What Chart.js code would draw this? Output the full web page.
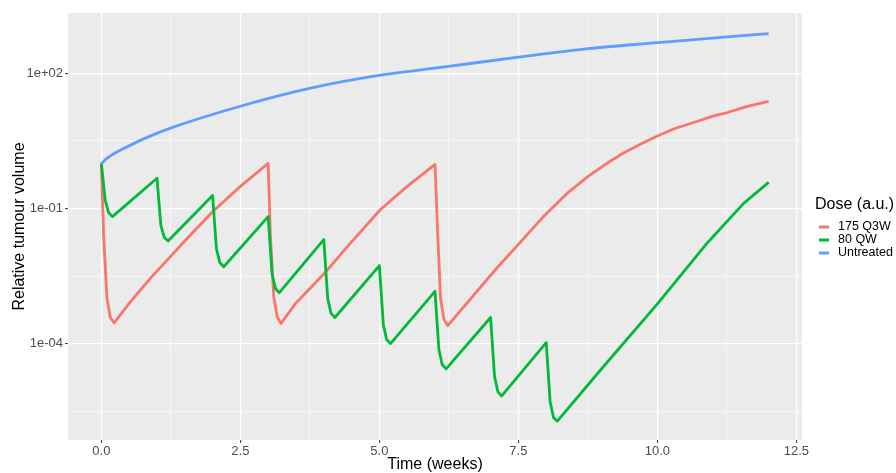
<!DOCTYPE html>
<html>
<head>
<meta charset="utf-8">
<script src="https://cdn.jsdelivr.net/npm/chart.js@4"></script>
<style>
  html, body { margin: 0; padding: 0; background: #fff; }
  #wrap { width: 896px; height: 473px; }
</style>
</head>
<body>
<div id="wrap"><canvas id="chart" width="896" height="473"></canvas></div>
<script>
// values (time in weeks, relative tumour volume)
const redTime = [0, 0.04, 0.1, 0.16, 0.23, 0.5, 0.88, 1.5, 2, 2.5, 3,
    3.04, 3.1, 3.16, 3.23, 3.5, 4, 4.42, 5.02, 5.5, 6,
    6.05, 6.1, 6.16, 6.23, 7.12, 7.5, 7.95, 8.38, 8.76, 9.1, 9.39, 9.7, 10, 10.3, 10.65, 11, 11.26, 11.6, 12];
const redValue = [1, 0.026, 0.00105, 0.00038, 0.00029, 0.00078, 0.0028, 0.019, 0.085, 0.31, 1.0,
    0.026, 0.0011, 0.0004, 0.00028, 0.0008, 0.0035, 0.014, 0.095, 0.31, 0.95,
    0.025, 0.001, 0.00035, 0.00025, 0.0049, 0.016, 0.066, 0.219, 0.525, 1.02, 1.7, 2.69, 4.07, 5.9, 8.1, 11.2, 13.5, 18.2, 24];

const greenTime = [0, 0.07, 0.13, 0.2, 1, 1.07, 1.13, 1.2, 2, 2.07, 2.13, 2.2,
    3, 3.07, 3.13, 3.2, 4, 4.07, 4.13, 4.2, 5, 5.07, 5.13, 5.2,
    6, 6.07, 6.13, 6.2, 7, 7.07, 7.13, 7.2, 8, 8.07, 8.13, 8.2,
    9, 10, 10.9, 11.55, 12];
const greenValue = [1, 0.15, 0.081, 0.066, 0.47, 0.042, 0.023, 0.019, 0.195, 0.0126, 0.0063, 0.0051,
    0.066, 0.0035, 0.00166, 0.00135, 0.0204, 0.00102, 0.00047, 0.00038, 0.0054, 0.00027, 0.000123, 0.0001,
    0.00145, 0.000074, 0.000034, 0.0000275, 0.00038, 0.000019, 0.0000085, 0.0000069, 0.000105, 0.0000052, 0.0000023, 0.0000019,
    0.000028, 0.00076, 0.0174, 0.13, 0.38];

const blueTime = [0, 0.1, 0.2, 0.4, 0.75, 1.28, 2.5, 3.76, 5.02, 6.1, 7.5, 8.76, 10, 11.26, 12];
const blueValue = [1, 1.29, 1.58, 2.14, 3.47, 6.3, 18.6, 46.8, 91, 135, 229, 355, 479, 646, 760];

const seriesNames = ['175 Q3W', '80 QW', 'Untreated'];
const seriesColors = ['#F8766D', '#00BA38', '#619CFF'];

const xMajor = [0, 2.5, 5, 7.5, 10, 12.5];
const xLabels = ['0.0', '2.5', '5.0', '7.5', '10.0', '12.5'];
const xMinor = [1.25, 3.75, 6.25, 8.75, 11.25];

const yMajor = [1e-4, 1e-1, 1e2];
const yLabels = ['1e-04', '1e-01', '1e+02'];
const yMinor = [Math.pow(10, -5.5), Math.pow(10, -2.5), Math.pow(10, 0.5)];

const FONT = "'Liberation Sans', Arial, sans-serif";

function pairs(t, v) {
    return t.map((x, i) => ({x: x, y: v[i]}));
}

function tickList(major, minor) {
    const all = major.map(v => ({value: v, major: true}))
        .concat(minor.map(v => ({value: v, major: false})));
    return all.sort((a, b) => a.value - b.value);
}

function labelFor(major, labels, value) {
    for (let i = 0; i < major.length; i++) {
        if (Math.abs(value - major[i]) <= Math.abs(major[i]) * 1e-6 + 1e-12) return labels[i];
    }
    return '';
}

const gridWidth = ctx => (ctx.tick && ctx.tick.major) ? 1.2 : 0.6;
const tickColor = ctx => (ctx.tick && ctx.tick.major) ? '#333333' : 'rgba(0,0,0,0)';

const panelBg = {
    id: 'panelBg',
    beforeDraw(chart) {
        const c = chart.ctx, a = chart.chartArea;
        c.save();
        c.fillStyle = '#ffffff';
        c.fillRect(0, 0, chart.width, chart.height);
        c.fillStyle = '#EBEBEB';
        c.fillRect(a.left, a.top, a.right - a.left, a.bottom - a.top);
        c.restore();
    }
};

const sideLegend = {
    id: 'sideLegend',
    afterDraw(chart) {
        const c = chart.ctx;
        c.save();
        c.textBaseline = 'middle';
        c.textAlign = 'left';
        c.fillStyle = '#000000';
        c.font = '16px ' + FONT;
        c.fillText('Dose (a.u.)', 815, 205);
        c.font = '12.5px ' + FONT;
        chart.data.datasets.forEach((ds, i) => {
            const y = 227 + i * 13;
            c.strokeStyle = ds.borderColor;
            c.lineWidth = 3;
            c.beginPath();
            c.moveTo(819, y);
            c.lineTo(829, y);
            c.stroke();
            c.fillStyle = '#000000';
            c.fillText(ds.label, 838, y);
        });
        c.restore();
    }
};

const chartArea = document.getElementById('chart');
const chart = new Chart(chartArea, {
    type: 'line',
    data: {
        datasets: [{
            label: seriesNames[0],
            data: pairs(redTime, redValue),
            borderColor: seriesColors[0],
            order: 3
        }, {
            label: seriesNames[1],
            data: pairs(greenTime, greenValue),
            borderColor: seriesColors[1],
            order: 2
        }, {
            label: seriesNames[2],
            data: pairs(blueTime, blueValue),
            borderColor: seriesColors[2],
            cubicInterpolationMode: 'monotone',
            order: 1
        }]
    },
    options: {
        responsive: false,
        animation: false,
        layout: {
            padding: {left: 0, top: 13, right: 94, bottom: 0}
        },
        elements: {
            line: {borderWidth: 2.8, tension: 0, fill: false, borderJoinStyle: 'round'},
            point: {radius: 0}
        },
        plugins: {
            legend: {display: false},
            tooltip: {enabled: false}
        },
        scales: {
            x: {
                type: 'linear',
                min: -0.6,
                max: 12.6,
                afterBuildTicks: s => { s.ticks = tickList(xMajor, xMinor); },
                afterFit: s => { s.height = 33; },
                border: {display: false},
                grid: {color: '#ffffff', lineWidth: gridWidth, tickLength: 3, tickColor: tickColor, tickWidth: 1},
                ticks: {
                    autoSkip: false,
                    maxRotation: 0,
                    padding: 1,
                    color: '#4D4D4D',
                    font: {family: FONT, size: 13},
                    callback: v => labelFor(xMajor, xLabels, v)
                },
                title: {
                    display: true,
                    text: 'Time (weeks)',
                    color: '#000000',
                    font: {family: FONT, size: 16, lineHeight: 1.0},
                    padding: {top: 0, bottom: 0}
                }
            },
            y: {
                type: 'logarithmic',
                min: Math.pow(10, -6.14),
                max: Math.pow(10, 3.34),
                afterBuildTicks: s => { s.ticks = tickList(yMajor, yMinor); },
                afterFit: s => { s.width = 68; },
                border: {display: false},
                grid: {color: '#ffffff', lineWidth: gridWidth, tickLength: 3, tickColor: tickColor, tickWidth: 1},
                ticks: {
                    autoSkip: false,
                    padding: 2,
                    color: '#4D4D4D',
                    font: {family: FONT, size: 13},
                    callback: v => labelFor(yMajor, yLabels, v)
                },
                title: {
                    display: true,
                    text: 'Relative tumour volume',
                    color: '#000000',
                    font: {family: FONT, size: 16},
                    padding: {top: 10, bottom: 0}
                }
            }
        }
    },
    plugins: [panelBg, sideLegend]
});
</script>
</body>
</html>
